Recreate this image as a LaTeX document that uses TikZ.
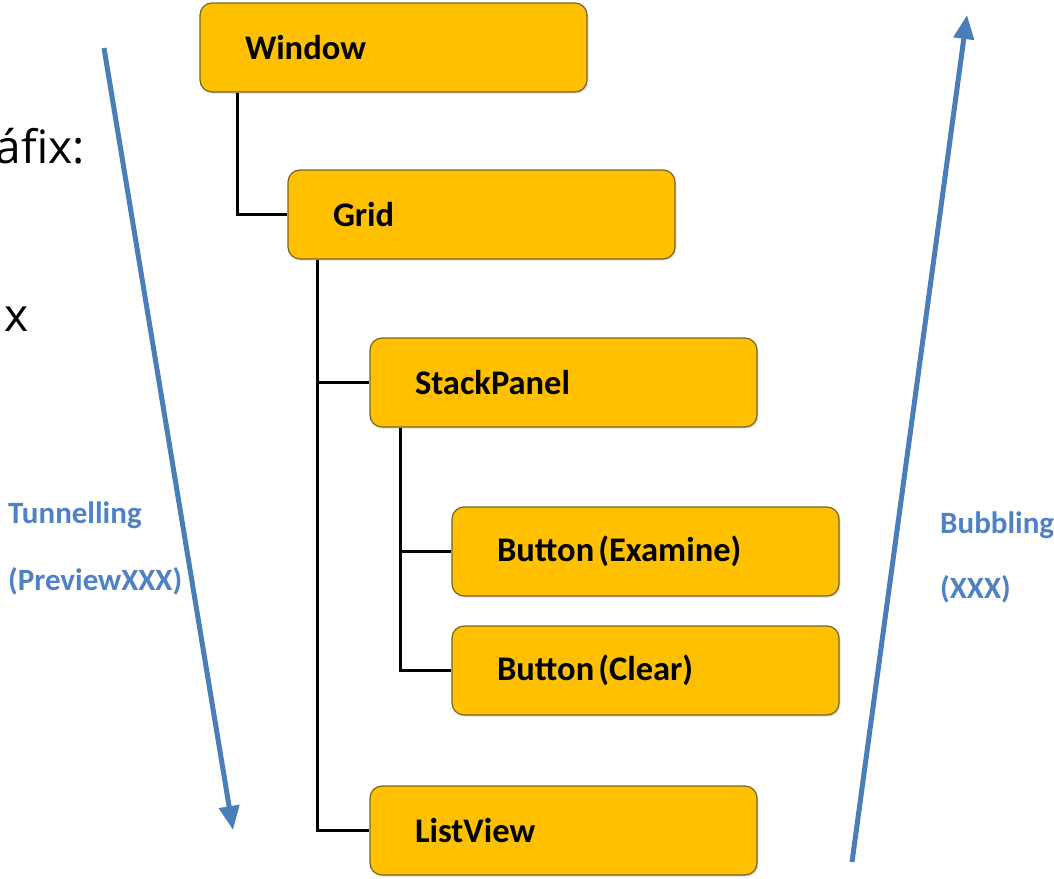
\documentclass[tikz,border=0pt]{standalone}
\usepackage{fontspec}
\setmainfont{Carlito}
\newfontfamily\notefont{Open Sans}
\usetikzlibrary{arrows.meta,shadows}
\definecolor{boxfill}{RGB}{255,192,0}
\definecolor{boxedge}{RGB}{120,100,40}
\definecolor{flowblue}{RGB}{74,126,187}
\definecolor{labelblue}{RGB}{79,129,199}
\tikzset{
  elem/.style={draw=boxedge, line width=1.2pt, fill=boxfill, rounded corners=12pt,
    minimum height=89pt, text width=297pt, inner xsep=45pt, align=left,
    font=\fontsize{34.5}{38}\selectfont\bfseries,
    drop shadow={shadow xshift=1.5pt, shadow yshift=-1.5pt, opacity=0.25}},
  link/.style={draw=black, line width=2.4pt},
  flow/.style={draw=flowblue, line width=5pt, -{Triangle[width=20pt,length=24pt]}},
  flowlabel/.style={text=labelblue, font=\fontsize{31}{34}\selectfont\bfseries, anchor=base west, inner sep=0pt},
  note/.style={font=\notefont\fontsize{46}{52}\selectfont, anchor=base east, inner sep=0pt}
}
\begin{document}
\begin{tikzpicture}[x=1pt,y=-1pt]
\useasboundingbox (0,0) rectangle (1054,878);

% element tree
\node[elem] (win)   at (393.5,47.5)  {Window};
\node[elem] (grid)  at (481.5,214.5) {Grid};
\node[elem] (stack) at (563.5,382.5) {StackPanel};
\node[elem] (exam)  at (645.5,551.5) {Button\hspace{4pt}(Examine)};
\node[elem] (clear) at (645.5,670.5) {Button\hspace{4pt}(Clear)};
\node[elem] (list)  at (563.5,830.5) {ListView};

% tree connectors
\draw[link] ([xshift=38pt]win.south west) |- (grid.west);
\draw[link] ([xshift=30pt]grid.south west) |- (stack.west);
\draw[link] ([xshift=30pt]grid.south west) |- (list.west);
\draw[link] ([xshift=31pt]stack.south west) |- (exam.west);
\draw[link] ([xshift=31pt]stack.south west) |- (clear.west);

% routing direction arrows
\coordinate (tunStart) at (104,48);
\coordinate (tunEnd)   at (233,830);
\coordinate (bubStart) at (852,862);
\coordinate (bubEnd)   at (967,15);
\draw[flow] (tunStart) -- (tunEnd);
\draw[flow] (bubStart) -- (bubEnd);

\node[flowlabel] (tunA) at (8,523) {Tunnelling};
\node[flowlabel] (tunB) at (8,590) {(PreviewXXX)};
\node[flowlabel] (bubA) at (940,533) {Bubbling};
\node[flowlabel] (bubB) at (940,598) {(XXX)};

% text fragments on the left edge
\node[note] (fragA) at (85,163) {áfix:};
\node[note] (fragB) at (29,331) {x};
\end{tikzpicture}
\end{document}
